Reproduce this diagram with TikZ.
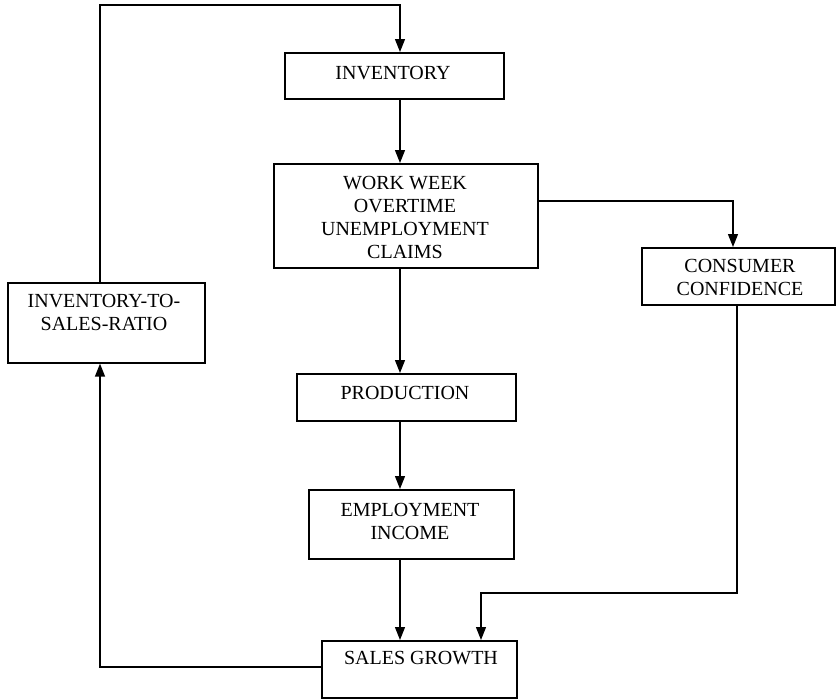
\documentclass[tikz,border=0pt]{standalone}
\usepackage{fontspec}
\setmainfont{Liberation Serif}
\usetikzlibrary{arrows.meta}
\begin{document}
\begin{tikzpicture}[x=1pt,y=-1pt,
  box/.style={draw,line width=1.6pt,anchor=north west,inner sep=0pt},
  lbl/.style={align=center,font=\fontsize{20}{23}\selectfont,inner sep=0pt},
  link/.style={line width=1.3pt},
  arr/.style={link,-{Triangle[length=13pt,width=10pt]}}]
\useasboundingbox (0,0) rectangle (836,699);

% boxes
\node[box,minimum width=219pt,minimum height=46pt] (inv)   at (284,52)  {};
\node[box,minimum width=264pt,minimum height=104pt] (ww)   at (273,163) {};
\node[box,minimum width=193pt,minimum height=57pt] (cons)  at (641,247) {};
\node[box,minimum width=197pt,minimum height=80pt] (its)   at (7,282)   {};
\node[box,minimum width=219pt,minimum height=47pt] (prod)  at (296,373) {};
\node[box,minimum width=205pt,minimum height=69pt] (emp)   at (308,489) {};
\node[box,minimum width=195pt,minimum height=57pt] (sales) at (321,640) {};

% labels
\node[lbl] (invt)   at (393,73)  {INVENTORY};
\node[lbl] (wwt)    at (405,217) {WORK WEEK\\OVERTIME\\UNEMPLOYMENT\\CLAIMS};
\node[lbl] (const)  at (740,277) {CONSUMER\\CONFIDENCE};
\node[lbl] (itst)   at (104,312) {INVENTORY-TO-\\SALES-RATIO};
\node[lbl] (prodt)  at (405,393) {PRODUCTION};
\node[lbl] (empt)   at (410,521) {EMPLOYMENT\\INCOME};
\node[lbl] (salest) at (421,658) {SALES GROWTH};

% routing points
\coordinate (mid) at (400,0);
\coordinate (wwy) at (0,201);
\coordinate (cc)  at (733,0);
\coordinate (cd)  at (737,593);
\coordinate (sd)  at (481,593);
\coordinate (lx)  at (100,667);
\coordinate (tl)  at (100,5);

% connectors
\draw[arr] (inv.south -| mid) -- (ww.north -| mid);
\draw[arr] (ww.south -| mid) -- (prod.north -| mid);
\draw[arr] (prod.south -| mid) -- (emp.north -| mid);
\draw[arr] (emp.south -| mid) -- (sales.north -| mid);
\draw[arr] (ww.east |- wwy) -| (cons.north -| cc);
\draw[arr] (cons.south -| cd) -- (cd) -| (sales.north -| sd);
\draw[arr] (sales.west |- lx) -| (its.south -| lx);
\draw[arr] (its.north -| tl) -- (tl) -| (inv.north -| mid);
\end{tikzpicture}
\end{document}
